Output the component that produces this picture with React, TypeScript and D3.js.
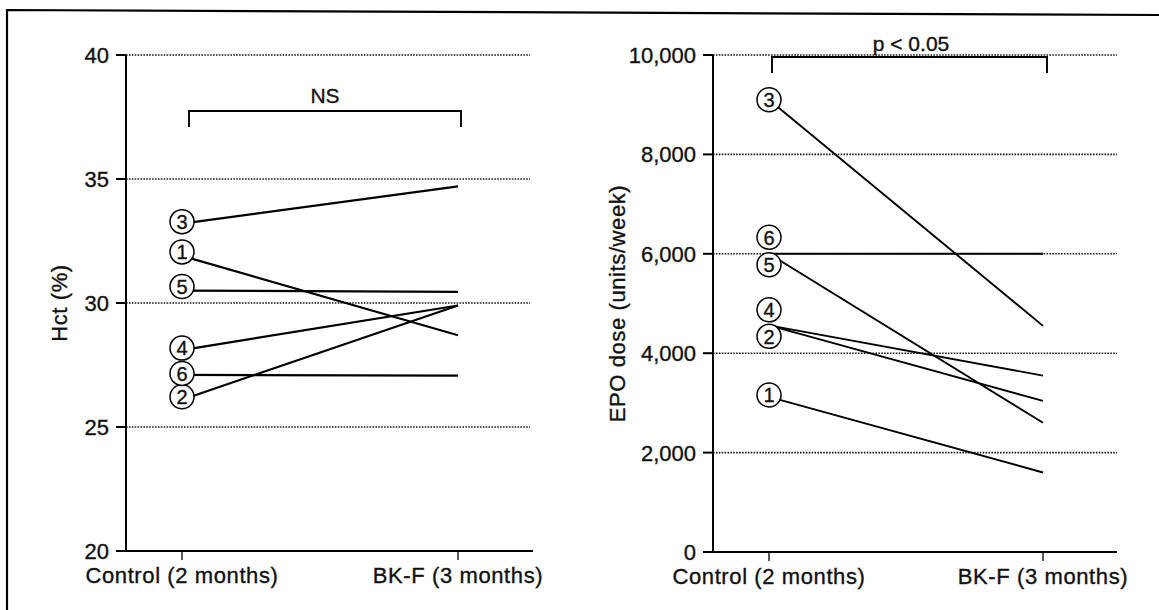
import React from "react";
import * as d3 from "d3";

// Study periods shared by both panels
const periods = ["Control (2 months)", "BK-F (3 months)"];
const patients = ["1", "2", "3", "4", "5", "6"];

// Hematocrit (%) per patient: [control, BK-F]
const hctControl = [31.9, 26.1, 33.2, 28.1, 30.5, 27.1];
const hctBkf = [28.7, 29.9, 34.7, 29.9, 30.45, 27.07];
const hctTicks = [20, 25, 30, 35, 40];

// EPO dose (units/week) per patient: [control, BK-F]
const epoControl = [3120, 4560, 9100, 4560, 6000, 6000];
const epoBkf = [1600, 3040, 4550, 3550, 2600, 6000];
const epoTicks = [0, 2000, 4000, 6000, 8000, 10000];

const FONT = "'Liberation Sans', Arial, Helvetica, sans-serif";

type PanelProps = {
  control: number[];
  bkf: number[];
  ticks: number[];
  domain: [number, number];
  yRange: [number, number];
  axisX: number;
  axisEnd: number;
  gridEnd: number;
  catRange: [number, number];
  yTitle: string;
  yTitleX: number;
  fmt: (v: number) => string;
  bracket: { y: number; x0: number; x1: number; text: string; textX: number; textY: number };
  labelDy: number[];
  lineWidth: number;
};

// slightly heavier glyphs, like printed type
const ink = { fill: "#111", stroke: "#111", strokeWidth: 0.35 };

function Panel(p: PanelProps) {
  const y = d3.scaleLinear().domain(p.domain).range(p.yRange);
  const x = d3.scalePoint<string>().domain(periods).range(p.catRange);
  const xc = x(periods[0]) as number;
  const xb = x(periods[1]) as number;
  const bottom = y(p.domain[0]);
  const top = y(p.domain[1]);
  const line = d3
    .line<[number, number]>()
    .x((d) => d[0])
    .y((d) => d[1]);

  return (
    <g fontFamily={FONT}>
      {/* dotted reference lines */}
      {p.ticks
        .filter((t) => t !== p.domain[0])
        .map((t) => (
          <line
            key={"g" + t}
            x1={p.axisX}
            x2={p.gridEnd}
            y1={y(t)}
            y2={y(t)}
            stroke="#1a1a1a"
            strokeWidth={1.6}
            strokeDasharray="1.6 1.3"
          />
        ))}
      {/* y axis */}
      <line x1={p.axisX} x2={p.axisX} y1={top} y2={bottom} stroke="#000" strokeWidth={2} />
      {p.ticks.map((t) => (
        <g key={"t" + t}>
          <line x1={p.axisX - 10} x2={p.axisX} y1={y(t)} y2={y(t)} stroke="#000" strokeWidth={2} />
          <text x={p.axisX - 17} y={y(t)} dy="0.36em" textAnchor="end" fontSize={22} {...ink}>
            {p.fmt(t)}
          </text>
        </g>
      ))}
      <text
        transform={`translate(${p.yTitleX},${(top + bottom) / 2}) rotate(-90)`}
        textAnchor="middle"
        dy="0.36em"
        fontSize={22}
        letterSpacing={0.6}
        {...ink}
      >
        {p.yTitle}
      </text>
      {/* x axis */}
      <line x1={p.axisX - 10} x2={p.axisEnd} y1={bottom} y2={bottom} stroke="#000" strokeWidth={2.2} />
      {periods.map((c) => (
        <g key={c}>
          <line x1={x(c)} x2={x(c)} y1={bottom} y2={bottom + 9} stroke="#000" strokeWidth={1.3} />
          <text
            x={x(c)}
            y={bottom + 32}
            textAnchor="middle"
            fontSize={22}
            letterSpacing={0.6}
            {...ink}
          >
            {c}
          </text>
        </g>
      ))}
      {/* significance bracket */}
      <path
        d={`M${p.bracket.x0},${p.bracket.y + 16}V${p.bracket.y}H${p.bracket.x1}V${p.bracket.y + 16}`}
        fill="none"
        stroke="#000"
        strokeWidth={1.9}
      />
      <text x={p.bracket.textX} y={p.bracket.textY} textAnchor="middle" fontSize={21} {...ink}>
        {p.bracket.text}
      </text>
      {/* patient lines */}
      {patients.map((id, i) => (
        <path
          key={"l" + id}
          d={line([
            [xc, y(p.control[i])],
            [xb, y(p.bkf[i])],
          ]) as string}
          fill="none"
          stroke="#000"
          strokeWidth={p.lineWidth}
        />
      ))}
      {/* circled patient numbers */}
      {patients.map((id, i) => {
        const cy = y(p.control[i]) + p.labelDy[i];
        return (
          <g key={"c" + id}>
            <circle cx={xc} cy={cy} r={12} fill="#fff" stroke="#000" strokeWidth={1.5} />
            <text x={xc} y={cy} dy="0.36em" textAnchor="middle" fontSize={20} {...ink}>
              {id}
            </text>
          </g>
        );
      })}
    </g>
  );
}

export default function App() {
  const comma = d3.format(",");
  return (
    <svg
      width={1159}
      height={610}
      style={{ position: "absolute", left: 0, top: 0, background: "#fff" }}
    >
      <rect width={1159} height={610} fill="#fff" />
      {/* page frame */}
      <path d="M7,610V10L1159,15" fill="none" stroke="#000" strokeWidth={2.2} />
      <Panel
        control={hctControl}
        bkf={hctBkf}
        ticks={hctTicks}
        domain={[20, 40]}
        yRange={[551, 55]}
        axisX={126}
        axisEnd={533}
        gridEnd={530}
        catRange={[182, 458]}
        yTitle="Hct (%)"
        yTitleX={59}
        fmt={(v) => String(v)}
        bracket={{ y: 111, x0: 189, x1: 461, text: "NS", textX: 325, textY: 103 }}
        labelDy={[-4, -3, -2, -2, -4, -1.5]}
        lineWidth={2.2}
      />
      <Panel
        control={epoControl}
        bkf={epoBkf}
        ticks={epoTicks}
        domain={[0, 10000]}
        yRange={[552, 55]}
        axisX={713}
        axisEnd={1117}
        gridEnd={1117}
        catRange={[769, 1043]}
        yTitle="EPO dose (units/week)"
        yTitleX={617}
        fmt={(v) => comma(v)}
        bracket={{ y: 57, x0: 772, x1: 1047, text: "p < 0.05", textX: 911, textY: 51 }}
        labelDy={[-2, 11, 0, -15.5, 11, -16.5]}
        lineWidth={1.9}
      />
    </svg>
  );
}
